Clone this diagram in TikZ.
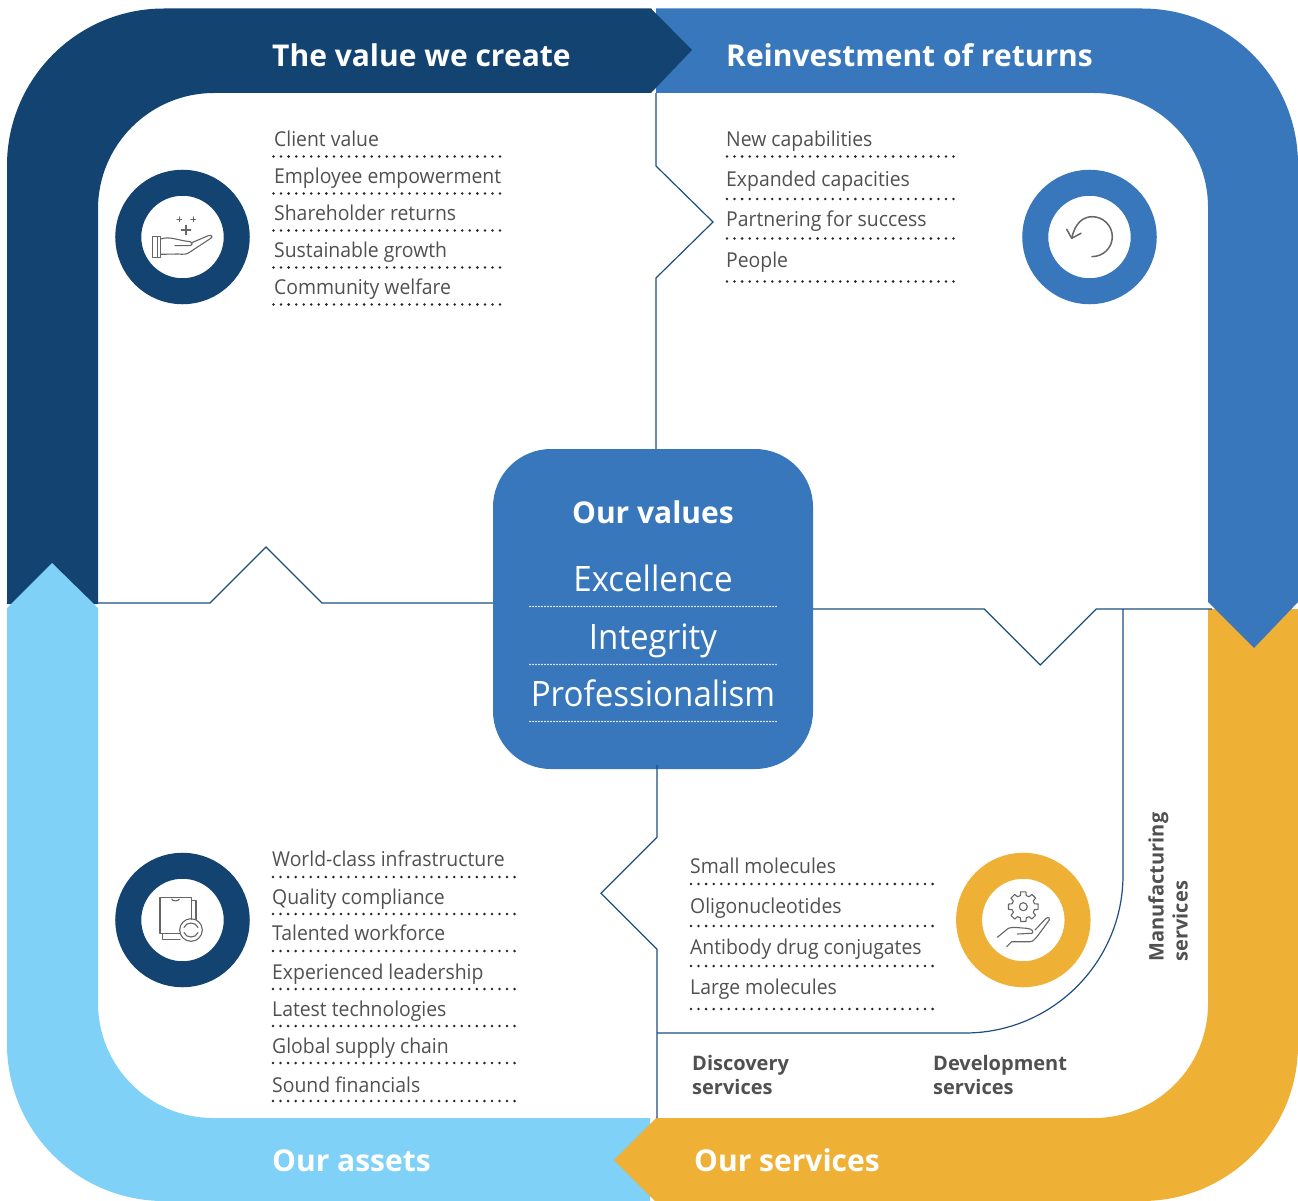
\documentclass[tikz,border=0pt]{standalone}
\usepackage{fontspec}
\setmainfont{Open Sans}
\newfontfamily\listfont{Open Sans}[FakeStretch=0.945]
\usepackage{xcolor}
\usetikzlibrary{calc}
\definecolor{navyband}{HTML}{134471}
\definecolor{blueband}{HTML}{3877BB}
\definecolor{yellowband}{HTML}{EFB036}
\definecolor{skyband}{HTML}{7FD1F7}
\definecolor{linknavy}{HTML}{1D4E7E}
\definecolor{greytext}{HTML}{505050}
\definecolor{icongrey}{HTML}{666666}
\tikzset{
    link/.style={draw=linknavy, line width=1.2pt},
    listdots/.style={draw=black!85, line width=2.8pt, line cap=round, dash pattern=on 0pt off 7.55pt},
    whitedots/.style={draw=white, line width=1.8pt, line cap=round, dash pattern=on 0pt off 3pt},
    listitem/.style={anchor=base west, inner sep=0pt, text=greytext, font=\listfont\fontsize{20.5}{24}\selectfont},
    bandtitle/.style={anchor=base west, inner sep=0pt, text=white, font=\fontsize{30}{36}\selectfont\bfseries},
    valueitem/.style={anchor=base, inner sep=0pt, text=white, font=\listfont\fontsize{35}{40}\selectfont},
    servicetitle/.style={align=left, inner sep=0pt, text=greytext, font=\fontsize{20}{24}\selectfont\bfseries},
    ring/.style={circle, minimum size=108.5pt, inner sep=0pt, fill=white, line width=26pt},
    icon/.style={draw=icongrey, line width=1.1pt, line cap=round, line join=round},
}
\begin{document}
\begin{tikzpicture}[x=1pt, y=-1pt]
        \useasboundingbox (0,0) rectangle (1298,1201);
        % Bands
        \fill[blueband] (656,8.5) [rounded corners=156pt] -- (1298,8.5) [sharp corners] -- (1298,602) -- (1208,602) [rounded corners=114pt] -- (1208,93) [sharp corners] -- (656,93) -- cycle;
        \fill[yellowband] (1298,609) [rounded corners=156pt] -- (1298,1201) [sharp corners] -- (656,1201) -- (656,1118) [rounded corners=114pt] -- (1208,1118) [sharp corners] -- (1208,609) -- cycle;
        \fill[skyband] (650,1201) [rounded corners=157pt] -- (7,1201) [sharp corners] -- (7,608) -- (98,608) [rounded corners=115pt] -- (98,1118) [sharp corners] -- (650,1118) -- cycle;
        \fill[navyband] (651,8.5) [rounded corners=157pt] -- (7,8.5) [sharp corners] -- (7,604) -- (98,604) [rounded corners=116pt] -- (98,93) [sharp corners] -- (651,93) -- cycle;
        % Arrow heads
        \fill[navyband] (651,8.5) -- (692,50) -- (651,93) -- cycle;
        \fill[blueband] (1208,602) -- (1254,648) -- (1298,602) -- cycle;
        \fill[yellowband] (657,1117) -- (614,1160) -- (655,1201) -- (657,1201) -- cycle;
        \fill[skyband] (7,608) -- (52,563) -- (98,608) -- cycle;
        % Values box
        \node[fill=blueband, rounded corners=58pt, minimum width=320pt, minimum height=320pt, inner sep=0pt] (Values) at (653,609) {};
        % Anchors of the links
        \coordinate (TopStart) at (656,93);
        \coordinate (LeftStart) at (98,603);
        \coordinate (RightEnd) at (1212,609);
        \coordinate (BottomEnd) at (657,1118);
        \coordinate (ServiceStart) at (657,1033);
        \coordinate (ServiceEnd) at (1123,609);
        % Links
        \draw[link] (TopStart) -- ++(0,73) -- ++(57,56) -- ++(-57,56) -- (TopStart |- Values.north);
        \draw[link] (LeftStart) -- ++(112,0) -- ++(56,-56) -- ++(56,56) -- (LeftStart -| Values.west);
        \draw[link] (Values.east |- RightEnd) -- ++(171,0) -- ++(56,56) -- ++(56,-56) -- (RightEnd);
        \draw[link] (BottomEnd |- Values.south) ++(0,-4) -- ++(0,72) -- ++(-56,56) -- ++(56,56) -- (BottomEnd);
        \draw[link, rounded corners=158pt] (ServiceStart) -- (ServiceEnd |- ServiceStart) -- (ServiceEnd);
        % Band titles
        \node[bandtitle] (Create) at (272,67) {The value we create};
        \node[bandtitle] (Reinvest) at (726,67) {Reinvestment of returns};
        \node[bandtitle] (Assets) at (272,1171) {Our assets};
        \node[bandtitle] (Services) at (694,1171) {Our services};
        % Values text
        \node[anchor=base, inner sep=0pt, text=white, font=\fontsize{30}{36}\selectfont\bfseries] (ValuesTitle) at (653,523) {Our values};
        \foreach \y/\txt [count=\i] in {591/Excellence, 649/Integrity, 706/Professionalism} {
            \node[valueitem] (V\i) at (653,\y) {\txt};
            \draw[whitedots] (530,\y+15.5) -- (777,\y+15.5);
        }
        % Lists
        \foreach \y/\e/\txt [count=\i] in {147/156.5/Client value, 184/193.5/Employee empowerment, 221/230.5/Shareholder returns, 257/267.5/Sustainable growth, 294/304.5/Community welfare} {
            \node[listitem] (C\i) at (274,\y) {\txt};
            \draw[listdots] (273.5,\e) -- (505,\e);
        }
        \foreach \y/\e/\txt [count=\i] in {147/156.5/New capabilities, 187/199/Expanded capacities, 226/238.5/Partnering for success, 267/281.5/People} {
            \node[listitem] (R\i) at (726,\y) {\txt};
            \draw[listdots] (727,\e) -- (959,\e);
        }
        \foreach \y/\e/\txt [count=\i] in {866/877/World-class infrastructure, 904/914/Quality compliance, 940/951/Talented workforce, 979/989/Experienced leadership, 1016/1026/Latest technologies, 1053/1063/Global supply chain, 1092/1101/Sound financials} {
            \node[listitem] (A\i) at (272,\y) {\txt};
            \draw[listdots] (273,\e) -- (516,\e);
        }
        \foreach \y/\e/\txt [count=\i] in {873/884/Small molecules, 913/926/Oligonucleotides, 954/966/Antibody drug conjugates, 994/1009/Large molecules} {
            \node[listitem] (S\i) at (690,\y) {\txt};
            \draw[listdots] (691,\e) -- (934,\e);
        }
        % Service labels
        \node[servicetitle, anchor=north west] (Discovery) at (692,1055) {Discovery\\services};
        \node[servicetitle, anchor=north west] (Development) at (933,1055) {Development\\services};
        \node[servicetitle, rotate=90] (Manufacturing) at (1168,887) {Manufacturing\\services};
        % Rings
        \node[ring, draw=navyband] (RingCreate) at (182.5,237) {};
        \node[ring, draw=blueband] (RingReinvest) at (1089.5,237) {};
        \node[ring, draw=navyband] (RingAssets) at (182.5,920) {};
        \node[ring, draw=yellowband] (RingServices) at (1023.3,920) {};
        % Open hand with plus signs
        \draw[icon] (152.3,236.7) rectangle (160.7,257.3) (157.7,236.7) -- (157.7,257.3);
        \draw[icon] (160.7,239) .. controls (170,236) and (176,240) .. (190,241.7) .. controls (193,242.5) and (193,245.5) .. (189,245.6) -- (175,245.7);
        \draw[icon] (191,243) -- (208.3,235.7) .. controls (212,234.5) and (213,237) .. (210.5,238.5) -- (190,252) .. controls (187,254.5) and (183,254.5) .. (178,254) -- (160.7,254.3);
        \draw[icon] (177,219.3) -- (181.6,219.3) (179.3,217) -- (179.3,221.6) (191,219.3) -- (195.6,219.3) (193.3,217) -- (193.3,221.6) (181.3,230) -- (190.7,230) (186,225.3) -- (186,234.7);
        % Return arrow
        \draw[icon, line width=1.5pt] (1092,256.6) .. controls (1103,256.6) and (1112.3,248) .. (1112.3,236.7) .. controls (1112.3,225.5) and (1103,216.7) .. (1092.3,216.7) .. controls (1083,216.7) and (1075,223) .. (1071.7,238.3);
        \draw[icon, line width=1.5pt] (1066.7,229.3) -- (1071.7,238.3) -- (1081,233.3);
        % Documents with cycle
        \draw[icon] (180,933.3) -- (160,933.3) -- (160,897.3) -- (191.7,897.3) -- (191.7,919.3);
        \draw[icon] (171.7,899) .. controls (172.5,901.5) and (178.5,901.5) .. (179.3,899);
        \draw[icon] (191.7,900.7) -- (196,900.7) -- (196,919.5) (162.3,933.3) -- (162.3,939.3) -- (180,939.3);
        \draw[icon] (191,930) circle (11.3);
        \draw[icon] (184,927.5) .. controls (186,921.5) and (196,921.5) .. (198,927.5) (198,932.5) .. controls (196,938.5) and (186,938.5) .. (184,932.5);
        % Hand with gear
        \coordinate (Gear) at (1023.3,906.7);
        \draw[icon] (Gear) circle (4);
        \foreach \a in {0,45,...,315} {
            \draw[icon] ($(Gear)+(\a-10:15)$) -- ($(Gear)+(\a+10:15)$) -- ($(Gear)+(\a+15:11.5)$) -- ($(Gear)+(\a+30:11.5)$) -- ($(Gear)+(\a+35:15)$);
        }
        \draw[icon] (997.3,937.3) -- (1008.3,928.3) .. controls (1012,926.5) and (1020,928) .. (1026.7,928.3) .. controls (1033,928.5) and (1034,933) .. (1031.7,933.3) -- (1017.3,934);
        \draw[icon] (1035,930) -- (1046,918.3) .. controls (1048.5,916.5) and (1050.5,918.5) .. (1049.3,920) -- (1038.3,935) .. controls (1035,939) and (1033,941.7) .. (1030,941.7) -- (1011.7,941.7) -- (1006.7,946.7);
    \end{tikzpicture}
\end{document}
